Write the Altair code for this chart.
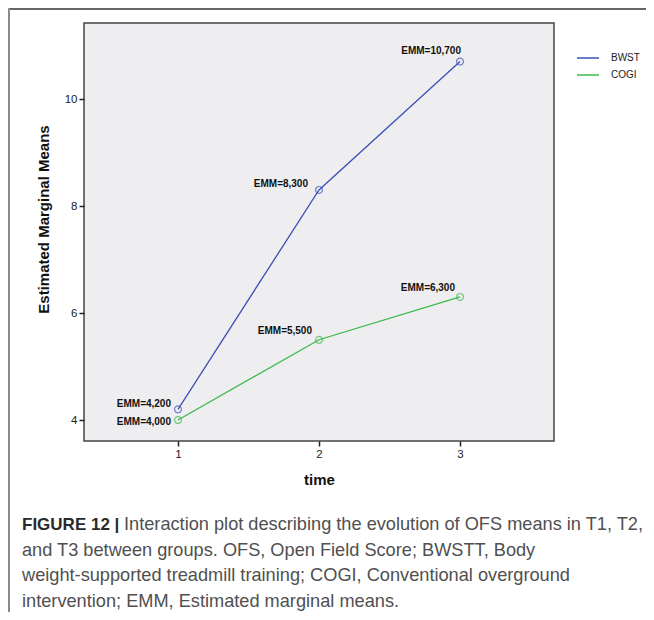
import altair as alt
import pandas as pd

# ---- data ----
groups = ["BWST", "COGI"]
times = [1, 2, 3]
bwst_means = [4.2, 8.3, 10.7]
cogi_means = [4.0, 5.5, 6.3]
y_ticks = [4, 6, 8, 10]
x_ticks = [1, 2, 3]
caption_bold = "FIGURE 12 |"
caption_lines = [
    "Interaction plot describing the evolution of OFS means in T1, T2,",
    "and T3 between groups. OFS, Open Field Score; BWSTT, Body",
    "weight-supported treadmill training; COGI, Conventional overground",
    "intervention; EMM, Estimated marginal means.",
]

rows = []
for g, vals in zip(groups, [bwst_means, cogi_means]):
    for t, v in zip(times, vals):
        rows.append({"group": g, "time": t, "emm": v,
                     "label": "EMM=" + f"{v:,.3f}".replace(".", ",")})
df = pd.DataFrame(rows)

# ---- style ----
FONT = "Liberation Sans"
colors = ["#3b4fb8", "#3cb94a"]
W, H = 470, 418
# label offsets (dx, dy) from each point, keyed by (group, time)
label_offsets = {
    ("BWST", 1): (-7, -5), ("BWST", 2): (-11, -6), ("BWST", 3): (1, -11),
    ("COGI", 1): (-7, 2), ("COGI", 2): (-7, -9), ("COGI", 3): (-5, -9),
}

xs = alt.Scale(domain=[1 / 3, 11 / 3], nice=False, zero=False)
ys = alt.Scale(domain=[3.6075, 11.4206], nice=False, zero=False)
col = alt.Color("group:N", scale=alt.Scale(domain=groups, range=colors),
                legend=alt.Legend(title=None, orient="none", legendX=492, legendY=23,
                                  symbolType="stroke", symbolSize=484,
                                  symbolStrokeWidth=1.5, labelFontSize=10,
                                  labelFont=FONT, labelColor="#222",
                                  labelOffset=11, rowPadding=-12))

base = alt.Chart(df)
x_enc = alt.X("time:Q", scale=xs,
              axis=alt.Axis(values=x_ticks, format="d", title="time", tickSize=5,
                            tickColor="#222", tickWidth=1.5, domain=False, grid=False,
                            labelFontSize=11.5, labelColor="#222", labelFont=FONT,
                            labelPadding=2, titleFont=FONT, titleFontSize=15,
                            titleFontWeight="bold", titleColor="#111",
                            titleX=235, titleY=38, titleBaseline="middle"))
y_enc = alt.Y("emm:Q", scale=ys,
              axis=alt.Axis(values=y_ticks, format="d", title="Estimated Marginal Means",
                            tickSize=5, tickColor="#222", tickWidth=1.5, domain=False,
                            grid=False, labelFontSize=11.5, labelColor="#222",
                            labelFont=FONT, labelPadding=2, titleFont=FONT,
                            titleFontSize=15, titleFontWeight="bold", titleColor="#111",
                            titleX=-41, titleY=196, titleAngle=-90,
                            titleAlign="center", titleBaseline="middle"))

lines = base.mark_line(strokeWidth=1.3).encode(x=x_enc, y=y_enc, color=col)
points = base.mark_point(filled=False, shape="circle", size=48, strokeWidth=1.2).encode(
    x="time:Q", y="emm:Q", color=alt.Color("group:N", legend=None))

label_layers = []
for (g, t), (dx, dy) in label_offsets.items():
    label_layers.append(
        base.transform_filter((alt.datum.group == g) & (alt.datum.time == t))
        .mark_text(align="right", baseline="middle", dx=dx, dy=dy, font=FONT,
                   fontSize=10, fontWeight="bold", color="#111")
        .encode(x="time:Q", y="emm:Q", text="label:N"))

one = alt.Chart(pd.DataFrame({"a": [0]}))
frame_top = one.mark_rule(color="#333", strokeWidth=1.5).encode(
    x=alt.value(-76), x2=alt.value(W + 92), y=alt.value(-14))
frame_left = one.mark_rule(color="#8a8a8a", strokeWidth=2).encode(
    x=alt.value(-75), y=alt.value(-15), y2=alt.value(H + 171))

cap_y0, cap_step = 502, 25.5
caption_layers = [
    one.mark_text(align="left", baseline="middle", font=FONT, fontSize=17,
                  fontWeight="bold", color="#2a2a2a", text=caption_bold).encode(
        x=alt.value(-62), y=alt.value(cap_y0))
]
cap_x = [40, -62, -62, -62]
for i, line in enumerate(caption_lines):
    caption_layers.append(
        one.mark_text(align="left", baseline="middle", font=FONT, fontSize=18.2,
                      color="#505050", text=line).encode(
            x=alt.value(cap_x[i]), y=alt.value(cap_y0 + i * cap_step)))

chart = alt.layer(lines, points, *label_layers, frame_top, frame_left,
                  *caption_layers).properties(
    width=W, height=H,
    padding={"left": 76, "top": 15, "right": 92, "bottom": 171},
    autosize=alt.AutoSizeParams(type="none"),
).configure(background="white"
).configure_view(stroke="#444", strokeWidth=1.5, fill="#eeeef0")

chart.save("out.html", embed_options={"renderer": "svg", "actions": False})
